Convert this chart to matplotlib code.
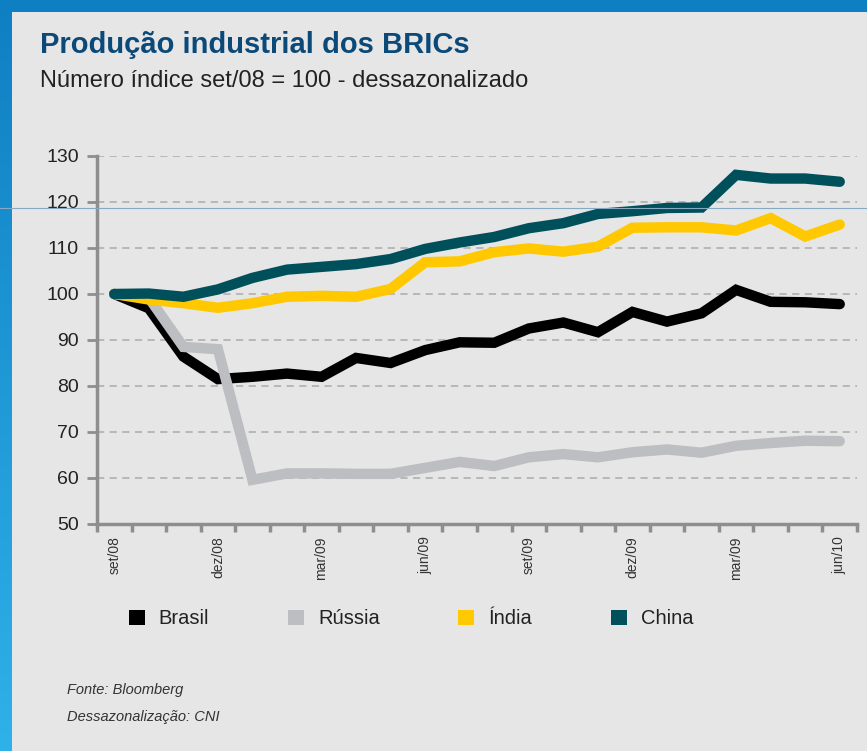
import numpy as np
import matplotlib
matplotlib.use('Agg')
import matplotlib.pyplot as plt
from matplotlib.patches import Rectangle, Patch
from matplotlib.lines import Line2D
from matplotlib.colors import LinearSegmentedColormap

plt.rcParams['font.family'] = ['Liberation Sans Narrow', 'Liberation Sans', 'DejaVu Sans']

# dados (set/08 = 100)
meses = ['set/08', 'out/08', 'nov/08', 'dez/08', 'jan/09', 'fev/09', 'mar/09',
         'abr/09', 'mai/09', 'jun/09', 'jul/09', 'ago/09', 'set/09', 'out/09',
         'nov/09', 'dez/09', 'jan/10', 'fev/10', 'mar/10', 'abr/10', 'mai/10', 'jun/10']
rotulos_x = ['set/08', 'dez/08', 'mar/09', 'jun/09', 'set/09', 'dez/09', 'mar/09', 'jun/10']

brasil = [100, 96.9, 86.4, 81.5, 82.0, 82.7, 82.0, 86.1, 85.0, 87.8, 89.5, 89.4,
          92.5, 93.8, 91.7, 96.1, 94.0, 95.8, 100.9, 98.3, 98.2, 97.8]
russia = [100, 99.2, 88.5, 88.0, 59.6, 61.0, 61.0, 60.9, 60.9, 62.2, 63.5, 62.6,
          64.5, 65.2, 64.5, 65.6, 66.2, 65.5, 67.0, 67.6, 68.1, 68.0]
india = [100, 98.8, 98.0, 97.0, 98.0, 99.4, 99.6, 99.4, 101.1, 106.9, 107.1, 109.1,
         109.9, 109.2, 110.3, 114.4, 114.5, 114.5, 113.8, 116.5, 112.5, 115.1]
china = [100, 100.1, 99.4, 101.0, 103.5, 105.3, 105.9, 106.5, 107.6, 109.8, 111.2, 112.4,
         114.3, 115.4, 117.4, 118.0, 118.7, 118.8, 125.9, 125.1, 125.1, 124.4]

series = [('Brasil', brasil, '#000000'),
          ('Rússia', russia, '#bdbec2'),
          ('Índia', india, '#ffc800'),
          ('China', china, '#00505c')]

cinza = '#8e8e8e'
fig = plt.figure(figsize=(8.67, 7.51), dpi=100)

# fundo: borda azul em degrade + painel cinza
bg = fig.add_axes([0, 0, 1, 1], zorder=-10)
grad = np.linspace(0, 1, 256).reshape(-1, 1)
azul = LinearSegmentedColormap.from_list('azul', ['#0f7fc3', '#2fb1e9'])
bg.imshow(grad, aspect='auto', cmap=azul, extent=[0, 1, 0, 1], origin='upper')
bg.add_patch(Rectangle((12 / 867, 0), 1, 1 - 12 / 751, color='#e6e6e6', lw=0))
bg.set_xlim(0, 1)
bg.set_ylim(0, 1)
bg.axis('off')

ax = fig.add_axes([97 / 867, 1 - 524 / 751, (857 - 97) / 867, (524 - 156) / 751])
ax.set_facecolor('none')

x = np.arange(len(meses))
for nome, vals, cor in series:
    ax.plot(x, vals, color=cor, lw=7.5, solid_capstyle='round',
            solid_joinstyle='miter', label=nome)

ax.set_xlim(-0.5, len(meses) - 0.5)
ax.set_ylim(50, 130)
ax.set_yticks(range(50, 131, 10))
ax.yaxis.grid(True, linestyle=(0, (4, 3)), color='#b4b4b4', lw=1.3)
ax.set_axisbelow(True)

ax.set_xticks(x[::3], rotulos_x, rotation=90, fontsize=10, color='#333333')
ax.set_xticks(np.arange(-0.5, len(meses), 1), minor=True)
ax.tick_params(axis='x', which='major', length=0, pad=9)
ax.tick_params(axis='x', which='minor', length=6, width=2.5, color=cinza)
ax.tick_params(axis='y', length=7, width=2, color=cinza, labelsize=14,
               labelcolor='#222222', pad=6)

for s in ['top', 'right']:
    ax.spines[s].set_visible(False)
for s in ['left', 'bottom']:
    ax.spines[s].set_color(cinza)
    ax.spines[s].set_linewidth(2.5)

# linha-guia fina horizontal do original
fig.add_artist(Line2D([0, 1], [1 - 208 / 751] * 2, color='#86aac2', lw=0.8))

fig.text(40 / 867, 1 - 45 / 751, 'Produção industrial dos BRICs', fontsize=21,
         fontweight='bold', color='#0b4a78', va='center')
fig.text(40 / 867, 1 - 81 / 751, 'Número índice set/08 = 100 - dessazonalizado',
         fontsize=17, color='#222222', va='center')

handles = [Patch(facecolor=c, edgecolor='none') for _, _, c in series]
fig.legend(handles, [n for n, _, _ in series], ncol=4, loc='center',
           bbox_to_anchor=(411 / 867, 1 - 619 / 751), frameon=False,
           handlelength=0.8, handleheight=0.8, handletextpad=0.7,
           columnspacing=3.9, fontsize=14.5, labelcolor='#222222')

fig.text(67 / 867, 1 - 690 / 751, 'Fonte: Bloomberg', fontsize=10.5,
         style='italic', color='#333333', va='center')
fig.text(67 / 867, 1 - 717 / 751, 'Dessazonalização: CNI', fontsize=10.5,
         style='italic', color='#333333', va='center')

fig.savefig('out.png', dpi=100)
